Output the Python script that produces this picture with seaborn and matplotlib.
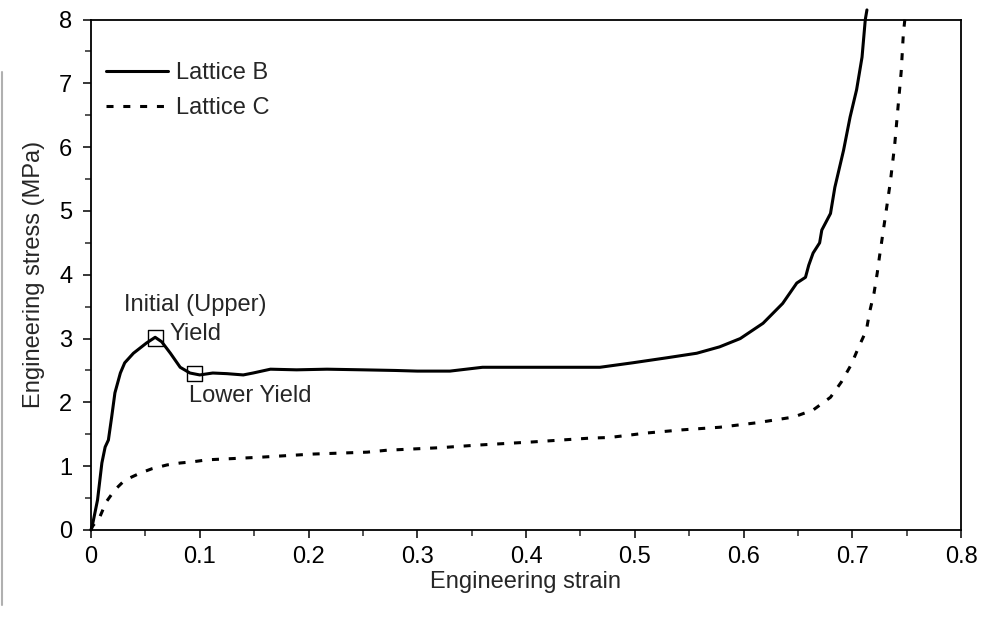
import numpy as np
import pandas as pd
import matplotlib
matplotlib.use("Agg")
import matplotlib.pyplot as plt
from matplotlib.lines import Line2D
import seaborn as sns

# ---- data ----
strain_b = [0, 0.001, 0.006, 0.010, 0.013, 0.016, 0.019, 0.022, 0.027, 0.031, 0.039, 0.051,
            0.059, 0.065, 0.073, 0.082, 0.091, 0.100, 0.112, 0.125, 0.140, 0.149, 0.165,
            0.189, 0.217, 0.25, 0.28, 0.30, 0.33, 0.36, 0.40, 0.44, 0.468, 0.498, 0.530,
            0.557, 0.578, 0.597, 0.618, 0.636, 0.649, 0.657, 0.660, 0.664, 0.670, 0.672,
            0.680, 0.684, 0.692, 0.698, 0.704, 0.709, 0.712, 0.7135]
stress_b = [0, 0.05, 0.47, 1.05, 1.30, 1.41, 1.77, 2.15, 2.46, 2.62, 2.77, 2.93,
            3.02, 2.95, 2.77, 2.55, 2.46, 2.43, 2.46, 2.45, 2.43, 2.46, 2.52,
            2.51, 2.52, 2.51, 2.50, 2.49, 2.49, 2.55, 2.55, 2.55, 2.55, 2.62, 2.70,
            2.77, 2.87, 3.0, 3.24, 3.55, 3.87, 3.96, 4.15, 4.34, 4.50, 4.70,
            4.96, 5.37, 5.95, 6.47, 6.9, 7.41, 8.0, 8.15]

strain_c = [0, 0.001, 0.008, 0.014, 0.022, 0.031, 0.045, 0.056, 0.07, 0.082, 0.094, 0.107,
            0.155, 0.204, 0.254, 0.272, 0.321, 0.355, 0.406, 0.459, 0.477, 0.511, 0.544,
            0.578, 0.612, 0.646, 0.664, 0.680, 0.690, 0.699, 0.706, 0.713, 0.716, 0.720,
            0.723, 0.725, 0.730, 0.735, 0.739, 0.742, 0.745, 0.747, 0.749]
stress_c = [0, 0.05, 0.2, 0.44, 0.63, 0.78, 0.89, 0.96, 1.02, 1.05, 1.07, 1.10,
            1.14, 1.19, 1.22, 1.25, 1.29, 1.33, 1.38, 1.44, 1.45, 1.52, 1.57,
            1.61, 1.68, 1.77, 1.88, 2.08, 2.32, 2.59, 2.87, 3.13, 3.42, 3.71,
            4.03, 4.28, 4.86, 5.45, 6.03, 6.61, 7.18, 7.78, 8.1]

yield_strain = [0.0593, 0.095]
yield_stress = [3.01, 2.45]

series_names = ["Lattice B", "Lattice C"]
x_ticks = [0, 0.1, 0.2, 0.3, 0.4, 0.5, 0.6, 0.7, 0.8]
x_tick_labels = ["0", "0.1", "0.2", "0.3", "0.4", "0.5", "0.6", "0.7", "0.8"]
y_ticks = [0, 1, 2, 3, 4, 5, 6, 7, 8]

FS = 17

# ---- style ----
sns.set_theme(style="ticks")
plt.rcParams["font.family"] = ["Liberation Sans", "DejaVu Sans"]
plt.rcParams["font.size"] = FS

fig = plt.figure(figsize=(9.88, 6.2), dpi=100)
ax = fig.add_axes([91/988, 1 - 530/620, (961 - 91)/988, (530 - 19.5)/620])

df_b = pd.DataFrame({"strain": strain_b, "stress": stress_b})
df_c = pd.DataFrame({"strain": strain_c, "stress": stress_c})

sns.lineplot(data=df_b, x="strain", y="stress", ax=ax, sort=False, estimator=None,
             color="black", lw=2.2, label=series_names[0], clip_on=False)
sns.lineplot(data=df_c, x="strain", y="stress", ax=ax, sort=False, estimator=None,
             color="black", lw=2.2, label=series_names[1], clip_on=False)
ax.lines[1].set_dashes((2.3, 3.2))

sns.scatterplot(x=yield_strain, y=yield_stress, ax=ax, marker="s", s=120,
                facecolor="none", edgecolor="black", linewidth=1.0, zorder=5)

ax.set_xlim(0, 0.8)
ax.set_ylim(0, 8)
ax.set_xticks(x_ticks)
ax.set_xticklabels(x_tick_labels)
ax.set_yticks(y_ticks)
ax.set_xticks(np.arange(0.05, 0.8, 0.1), minor=True)
ax.set_yticks(np.arange(0.5, 8, 1.0), minor=True)
ax.tick_params(axis="both", which="major", direction="out", length=5.5, width=1.1,
               labelsize=FS, colors="black")
ax.tick_params(axis="x", which="major", pad=6)
ax.tick_params(axis="y", which="major", pad=8)
ax.tick_params(axis="both", which="minor", direction="out", length=4.5, width=1.1)
for sp in ax.spines.values():
    sp.set_visible(True)
    sp.set_linewidth(1.3)
    sp.set_color("black")

ax.set_xlabel("Engineering strain", fontsize=FS, labelpad=2)
ax.set_ylabel("Engineering stress (MPa)", fontsize=FS, labelpad=10)

ax.text(0.0305, 3.53, "Initial (Upper)", fontsize=FS, ha="left", va="center")
ax.text(0.0725, 3.07, "Yield", fontsize=FS, ha="left", va="center")
ax.text(0.0905, 2.10, "Lower Yield", fontsize=FS, ha="left", va="center")

leg = ax.legend(loc="upper left", bbox_to_anchor=(-0.007, 0.958), frameon=False,
                fontsize=FS, handlelength=2.6, handletextpad=0.35, labelspacing=0.55)

# thin grey edge line seen at the left border of the reference
fig.add_artist(Line2D([1.5/988, 1.5/988], [1 - 605/620, 1 - 72/620],
                      transform=fig.transFigure, color="#b0b0b0", lw=1.5))

fig.savefig("out.png", dpi=100)
